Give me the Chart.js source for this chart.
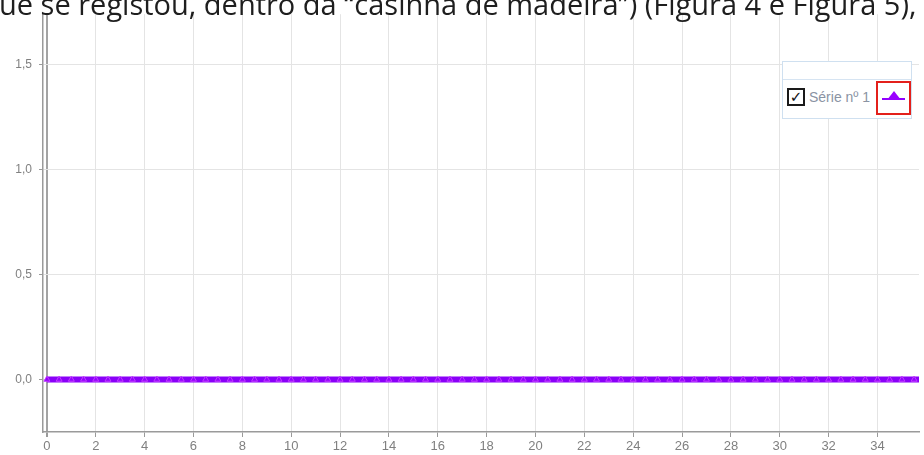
<!DOCTYPE html>
<html>
<head>
<meta charset="utf-8">
<script src="https://cdn.jsdelivr.net/npm/chart.js"></script>
<style>
  html, body { margin: 0; padding: 0; background: #fff; overflow: hidden; }
  #wrap { position: relative; width: 924px; height: 455px; overflow: hidden; }
  #chart { position: absolute; left: 0; top: 0; }
  #heading {
    position: absolute; left: -1px; top: -16px; white-space: nowrap;
    font-family: "Open Sans"; font-size: 29px; line-height: 40px; color: #1e1e1e;
  }
  #legend {
    position: absolute; left: 782px; top: 61px; width: 128px; height: 56px;
    border: 1px solid #cfe0f0; background: #fff; box-sizing: content-box;
  }
  #legend .head { height: 17px; border-bottom: 1px solid #d6e4f2; }
  #legend .check {
    position: absolute; left: 4px; top: 26px; width: 14px; height: 14px;
    border: 2px solid #1a1a1a; background: #fff;
    font-family: "DejaVu Sans"; font-size: 15px; line-height: 14px; font-weight: bold;
    text-align: center; color: #111;
  }
  #legend .label {
    position: absolute; left: 26px; top: 27px; font-family: "Liberation Sans"; font-size: 14px;
    line-height: 16px; color: #8a93a3;
  }
  #legend .mark {
    position: absolute; left: 93px; top: 19px; width: 31px; height: 30px;
    border: 2px solid #e3201b;
  }
  #legend .mark .ln { position: absolute; left: 4px; top: 15px; width: 23px; height: 2px; background: #9000ff; }
  #legend .mark .tri {
    position: absolute; left: 9px; top: 8px; width: 0; height: 0;
    border-left: 7px solid transparent; border-right: 7px solid transparent; border-bottom: 9px solid #9a00ff;
  }
</style>
</head>
<body>
<div id="wrap">
  <canvas id="chart" width="924" height="455"></canvas>
  <div id="heading">ue se registou, dentro da “casinha de madeira”) (Figura 4 e Figura 5),</div>
  <div id="legend">
    <div class="head"></div>
    <div class="check">✓</div>
    <div class="label">Série nº 1</div>
    <div class="mark"><div class="ln"></div><div class="tri"></div></div>
  </div>
</div>
<script>
// series 1 — every reading sits on zero
var xValues = [0, 0.5, 1, 1.5, 2, 2.5, 3, 3.5, 4, 4.5, 5, 5.5, 6, 6.5, 7, 7.5, 8, 8.5, 9, 9.5,
               10, 10.5, 11, 11.5, 12, 12.5, 13, 13.5, 14, 14.5, 15, 15.5, 16, 16.5, 17, 17.5,
               18, 18.5, 19, 19.5, 20, 20.5, 21, 21.5, 22, 22.5, 23, 23.5, 24, 24.5, 25, 25.5,
               26, 26.5, 27, 27.5, 28, 28.5, 29, 29.5, 30, 30.5, 31, 31.5, 32, 32.5, 33, 33.5,
               34, 34.5, 35, 35.5, 36];
var serie1 = [0, 0, 0, 0, 0, 0, 0, 0, 0, 0, 0, 0, 0, 0, 0, 0, 0, 0, 0, 0,
              0, 0, 0, 0, 0, 0, 0, 0, 0, 0, 0, 0, 0, 0, 0, 0,
              0, 0, 0, 0, 0, 0, 0, 0, 0, 0, 0, 0, 0, 0, 0, 0,
              0, 0, 0, 0, 0, 0, 0, 0, 0, 0, 0, 0, 0, 0, 0, 0,
              0, 0, 0, 0, 0];
var xTicks = [0, 2, 4, 6, 8, 10, 12, 14, 16, 18, 20, 22, 24, 26, 28, 30, 32, 34];
var yTicks = [0, 0.5, 1.0, 1.5];

var points = xValues.map((x, i) => ({ x: x, y: serie1[i] }));

new Chart("chart", {
    type: "line",
    data: {
        datasets: [{
            label: "Série nº 1",
            data: points,
            borderColor: "#8a00f8",
            borderWidth: 6,
            pointStyle: "triangle",
            pointRadius: 3.5,
            pointBackgroundColor: "#9200ff",
            pointBorderColor: "#c23cff",
            pointBorderWidth: 1
        }]
    },
    options: {
        responsive: false,
        animation: false,
        devicePixelRatio: 1,
        layout: { padding: { top: 12, right: 0, left: 0, bottom: 0 } },
        plugins: { legend: { display: false }, tooltip: { enabled: false } },
        scales: {
            x: {
                type: "linear",
                min: -0.16,
                max: 35.7,
                afterBuildTicks: s => { s.ticks = xTicks.map(v => ({ value: v })); },
                afterFit: s => { s.height = 23; },
                grid: {
                    color: c => (c.tick && c.tick.value === 0) ? "#a3a3a3" : "#e4e4e4",
                    lineWidth: c => (c.tick && c.tick.value === 0) ? 2 : 1,
                    tickColor: "#9a9a9a",
                    tickLength: 5
                },
                border: { color: "#9a9a9a", width: 1.5 },
                ticks: {
                    color: "#808080",
                    font: { family: "Liberation Sans", size: 13 },
                    padding: 2,
                    maxRotation: 0,
                    autoSkip: false
                }
            },
            y: {
                min: -0.25,
                max: 1.74,
                afterBuildTicks: s => { s.ticks = yTicks.map(v => ({ value: v })); },
                afterFit: s => { s.width = 43; },
                grid: { color: "#e4e4e4", tickColor: "#9a9a9a", tickLength: 4 },
                border: { color: "#9a9a9a", width: 1.5 },
                ticks: {
                    color: "#808080",
                    font: { family: "Liberation Sans", size: 12 },
                    padding: 7,
                    callback: v => v.toFixed(1).replace(".", ",")
                }
            }
        }
    }
});
</script>
</body>
</html>
